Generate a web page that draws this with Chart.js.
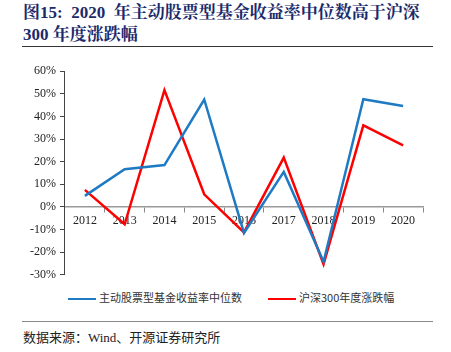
<!DOCTYPE html>
<html>
<head>
<meta charset="utf-8">
<script src="https://cdn.jsdelivr.net/npm/chart.js@4"></script>
<style>
  body { margin: 0; width: 451px; height: 352px; background: #fff; position: relative; overflow: hidden; }
  .title { position: absolute; left: 23px; top: 2px; width: 420px; font-family: "Liberation Serif", "Noto Serif CJK SC", "Noto Sans CJK SC", serif; font-weight: bold; font-size: 17px; line-height: 22px; color: #1b2a6b; }
  .rule { position: absolute; left: 22px; width: 411px; height: 1px; background: #333; }
  .source { position: absolute; left: 23px; top: 327px; font-family: "Liberation Serif", "Noto Sans CJK SC", serif; font-size: 13px; color: #222; }
  #wrap { position: absolute; left: 0; top: 60px; width: 451px; height: 226px; }
  .legend { position: absolute; top: 289px; font-family: "Noto Sans CJK SC", sans-serif; font-size: 11px; color: #333; white-space: nowrap; }
  .legend span { display: inline-block; width: 28px; height: 2px; vertical-align: middle; margin-right: 3px; }
</style>
</head>
<body>
<div class="title">图15:&nbsp; 2020 &nbsp;年主动股票型基金收益率中位数高于沪深<br>300 年度涨跌幅</div>
<div class="rule" style="top:46px"></div>
<div id="wrap"><canvas id="chart"></canvas></div>
<div class="legend" id="lg1" style="left:68px"></div>
<div class="legend" id="lg2" style="left:268px"></div>
<div class="rule" style="top:321px; background:#888"></div>
<div class="source">数据来源：Wind、开源证券研究所</div>
<script>
const years = ['2012', '2013', '2014', '2015', '2016', '2017', '2018', '2019', '2020'];
const fundMedian = [4.9, 16.7, 18.5, 47.5, -11.5, 15.5, -24.2, 47.6, 44.6];
const csi300 = [7.55, -7.65, 51.66, 5.58, -11.28, 21.78, -25.31, 36.07, 27.21];
const fundLabel = '主动股票型基金收益率中位数';
const csiLabel = '沪深300年度涨跌幅';

const blue = '#1f7ac4';
const red = '#ff0000';
const serif = '"Liberation Serif", "Times New Roman", serif';

document.getElementById('lg1').innerHTML = `<span style="background:${blue}"></span>${fundLabel}`;
document.getElementById('lg2').innerHTML = `<span style="background:${red}"></span>${csiLabel}`;

new Chart(document.getElementById('chart').getContext('2d'), {
  type: 'line',
  data: {
    labels: years,
    datasets: [
      { label: fundLabel, data: fundMedian, borderColor: blue, borderWidth: 2.5, pointRadius: 0, tension: 0 },
      { label: csiLabel, data: csi300, borderColor: red, borderWidth: 2.5, pointRadius: 0, tension: 0 },
    ],
  },
  options: {
    responsive: true,
    maintainAspectRatio: false,
    animation: false,
    layout: { padding: { left: 26, right: 28, top: 4, bottom: 1 } },
    plugins: {
      tooltip: { enabled: false },
      legend: { display: false },
    },
    scales: {
      x: {
        position: { y: 0 },
        offset: true,
        grid: { offset: true, drawOnChartArea: false, drawTicks: true, tickLength: 5, color: '#888' },
        border: { color: '#999', width: 1.5 },
        ticks: { color: '#222', font: { family: serif, size: 12 }, padding: 2, maxRotation: 0 },
      },
      y: {
        min: -30,
        max: 60,
        grid: { drawOnChartArea: false, tickLength: 5, color: '#444' },
        border: { color: '#444', width: 1 },
        ticks: { stepSize: 10, autoSkip: false, color: '#222', font: { family: serif, size: 12 }, padding: 4, callback: v => v + '%' },
      },
    },
  },
});
</script>
</body>
</html>
